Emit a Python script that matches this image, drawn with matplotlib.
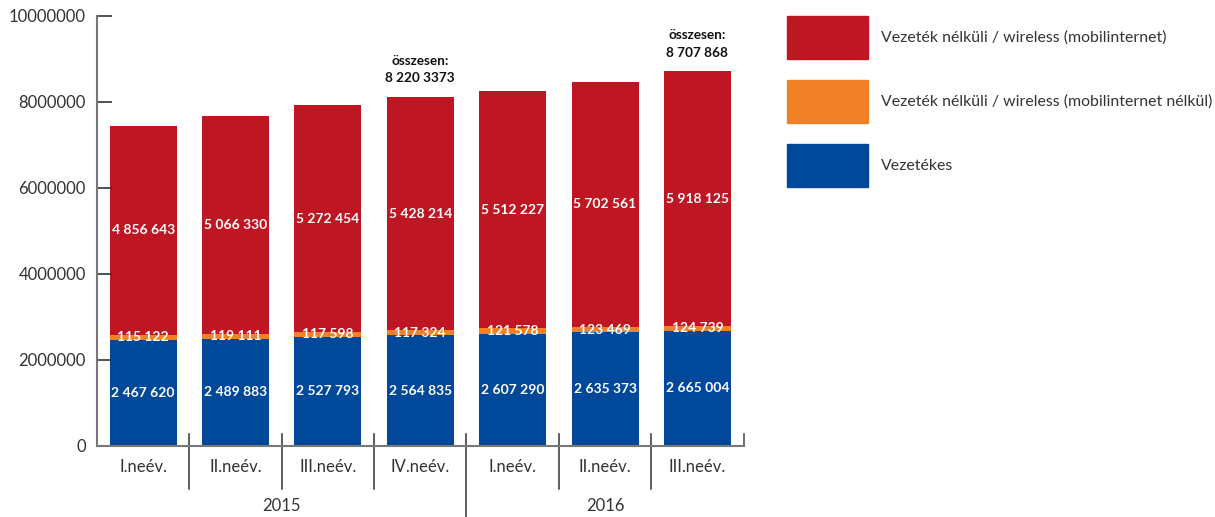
import matplotlib
matplotlib.use("Agg")
import matplotlib.pyplot as plt
from matplotlib.patches import Rectangle
from matplotlib.transforms import blended_transform_factory
import numpy as np

plt.rcParams['font.family'] = ['Lato', 'DejaVu Sans']

categories = ["I.neév.", "II.neév.", "III.neév.", "IV.neév.", "I.neév.", "II.neév.", "III.neév."]
years = ["2015", "2016"]
year_groups = [4, 3]
vezetekes = [2467620, 2489883, 2527793, 2564835, 2607290, 2635373, 2665004]
wireless_no_mobil = [115122, 119111, 117598, 117324, 121578, 123469, 124739]
wireless_mobil = [4856643, 5066330, 5272454, 5428214, 5512227, 5702561, 5918125]
total_labels = [None, None, None, "8 220 3373", None, None, "8 707 868"]
total_prefix = "összesen:"
yticks = [0, 2000000, 4000000, 6000000, 8000000, 10000000]

legend_labels = ["Vezeték nélküli / wireless (mobilinternet)",
                 "Vezeték nélküli / wireless (mobilinternet nélkül)",
                 "Vezetékes"]
c_red = "#BE1622"
c_orange = "#F08127"
c_blue = "#00489A"
text_grey = "#333333"

W, H = 1215, 517
fig = plt.figure(figsize=(W / 100, H / 100), dpi=100)
ax = fig.add_axes([97 / W, (H - 445.7) / H, (743.6 - 97) / W, 430 / H])

x = np.arange(len(categories))
bw = 0.726
b1 = np.array(vezetekes)
b2 = b1 + np.array(wireless_no_mobil)
ax.bar(x, vezetekes, bw, color=c_blue)
ax.bar(x, wireless_no_mobil, bw, bottom=b1, color=c_orange)
ax.bar(x, wireless_mobil, bw, bottom=b2, color=c_red)

def fmt(v):
    return f"{v:,}".replace(",", " ")

lab_kw = dict(ha="center", va="center", color="white", fontweight="bold", fontsize=10)
for i in range(len(x)):
    ax.text(x[i], vezetekes[i] / 2, fmt(vezetekes[i]), **lab_kw)
    ax.text(x[i], b1[i] + wireless_no_mobil[i] / 2, fmt(wireless_no_mobil[i]), **lab_kw)
    ax.text(x[i], b2[i] + wireless_mobil[i] / 2, fmt(wireless_mobil[i]), **lab_kw)
    if total_labels[i]:
        top = b2[i] + wireless_mobil[i]
        ax.annotate(total_prefix + "\n" + total_labels[i], (x[i], top),
                    xytext=(0, 9), textcoords="offset points",
                    ha="center", va="bottom", fontsize=9.8, fontweight="bold",
                    color="#111111", linespacing=1.55)

ax.set_xlim(-0.5, len(categories) - 0.5)
ax.set_ylim(0, 10000000)
ax.set_yticks(yticks)
ax.set_yticklabels([str(t) for t in yticks])
ax.tick_params(axis="y", direction="in", length=11, width=1.2, color="#333333",
               labelsize=12, labelcolor=text_grey, pad=8)
ax.set_xticks([])
for s in ["top", "right"]:
    ax.spines[s].set_visible(False)
for s in ["left", "bottom"]:
    ax.spines[s].set_color("#777777")
    ax.spines[s].set_linewidth(1.5)

tr = blended_transform_factory(ax.transData, ax.transAxes)
for i, c in enumerate(categories):
    ax.text(x[i], -0.05, c, transform=tr, ha="center", va="center",
            fontsize=12, color=text_grey)
# separators
bounds = np.cumsum(year_groups)
for k in range(1, len(categories)):
    low = -0.166 if k in bounds else -0.101
    ax.plot([k - 0.5, k - 0.5], [0.027, low], transform=tr, color="#333333",
            lw=1.1, clip_on=False)
ax.plot([len(categories) - 0.5] * 2, [0.027, 0], transform=tr, color="#555555",
        lw=1.2, clip_on=False)
start = 0
for yr, n in zip(years, year_groups):
    mid = (start - 0.5 + start + n - 0.5) / 2
    ax.text(mid, -0.14, yr, transform=tr, ha="center", va="center",
            fontsize=12, color=text_grey)
    start += n

# legend
leg_colors = [c_red, c_orange, c_blue]
leg_tops = [16, 80, 144]
for col, lab, t in zip(leg_colors, legend_labels, leg_tops):
    fig.patches.append(Rectangle((787 / W, (H - t - 43) / H), 81 / W, 43 / H,
                                 transform=fig.transFigure, color=col))
    fig.text(881 / W, (H - t - 22) / H, lab, ha="left", va="center",
             fontsize=11.4, color=text_grey)

fig.savefig("out.png", dpi=100)
